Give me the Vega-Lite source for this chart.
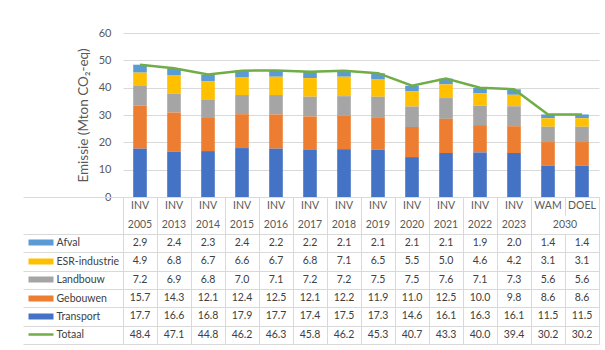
{
  "$schema": "https://vega.github.io/schema/vega-lite/v6.json",
  "background": "white",
  "padding": {"left": 22, "top": 27, "right": 4, "bottom": 2},
  "spacing": 0,
  "bounds": "flush",
  "config": {"font": "Lato", "view": {"stroke": null}, "axis": {"labelOverlap": false}},
  "datasets": {
    "emis": [
      {"cat": "INV 2005", "serie": "Afval", "value": 2.9},
      {"cat": "INV 2013", "serie": "Afval", "value": 2.4},
      {"cat": "INV 2014", "serie": "Afval", "value": 2.3},
      {"cat": "INV 2015", "serie": "Afval", "value": 2.4},
      {"cat": "INV 2016", "serie": "Afval", "value": 2.2},
      {"cat": "INV 2017", "serie": "Afval", "value": 2.2},
      {"cat": "INV 2018", "serie": "Afval", "value": 2.1},
      {"cat": "INV 2019", "serie": "Afval", "value": 2.1},
      {"cat": "INV 2020", "serie": "Afval", "value": 2.1},
      {"cat": "INV 2021", "serie": "Afval", "value": 2.1},
      {"cat": "INV 2022", "serie": "Afval", "value": 1.9},
      {"cat": "INV 2023", "serie": "Afval", "value": 2.0},
      {"cat": "WAM 2030", "serie": "Afval", "value": 1.4},
      {"cat": "DOEL 2030", "serie": "Afval", "value": 1.4},
      {"cat": "INV 2005", "serie": "ESR-industrie", "value": 4.9},
      {"cat": "INV 2013", "serie": "ESR-industrie", "value": 6.8},
      {"cat": "INV 2014", "serie": "ESR-industrie", "value": 6.7},
      {"cat": "INV 2015", "serie": "ESR-industrie", "value": 6.6},
      {"cat": "INV 2016", "serie": "ESR-industrie", "value": 6.7},
      {"cat": "INV 2017", "serie": "ESR-industrie", "value": 6.8},
      {"cat": "INV 2018", "serie": "ESR-industrie", "value": 7.1},
      {"cat": "INV 2019", "serie": "ESR-industrie", "value": 6.5},
      {"cat": "INV 2020", "serie": "ESR-industrie", "value": 5.5},
      {"cat": "INV 2021", "serie": "ESR-industrie", "value": 5.0},
      {"cat": "INV 2022", "serie": "ESR-industrie", "value": 4.6},
      {"cat": "INV 2023", "serie": "ESR-industrie", "value": 4.2},
      {"cat": "WAM 2030", "serie": "ESR-industrie", "value": 3.1},
      {"cat": "DOEL 2030", "serie": "ESR-industrie", "value": 3.1},
      {"cat": "INV 2005", "serie": "Landbouw", "value": 7.2},
      {"cat": "INV 2013", "serie": "Landbouw", "value": 6.9},
      {"cat": "INV 2014", "serie": "Landbouw", "value": 6.8},
      {"cat": "INV 2015", "serie": "Landbouw", "value": 7.0},
      {"cat": "INV 2016", "serie": "Landbouw", "value": 7.1},
      {"cat": "INV 2017", "serie": "Landbouw", "value": 7.2},
      {"cat": "INV 2018", "serie": "Landbouw", "value": 7.2},
      {"cat": "INV 2019", "serie": "Landbouw", "value": 7.5},
      {"cat": "INV 2020", "serie": "Landbouw", "value": 7.5},
      {"cat": "INV 2021", "serie": "Landbouw", "value": 7.6},
      {"cat": "INV 2022", "serie": "Landbouw", "value": 7.1},
      {"cat": "INV 2023", "serie": "Landbouw", "value": 7.3},
      {"cat": "WAM 2030", "serie": "Landbouw", "value": 5.6},
      {"cat": "DOEL 2030", "serie": "Landbouw", "value": 5.6},
      {"cat": "INV 2005", "serie": "Gebouwen", "value": 15.7},
      {"cat": "INV 2013", "serie": "Gebouwen", "value": 14.3},
      {"cat": "INV 2014", "serie": "Gebouwen", "value": 12.1},
      {"cat": "INV 2015", "serie": "Gebouwen", "value": 12.4},
      {"cat": "INV 2016", "serie": "Gebouwen", "value": 12.5},
      {"cat": "INV 2017", "serie": "Gebouwen", "value": 12.1},
      {"cat": "INV 2018", "serie": "Gebouwen", "value": 12.2},
      {"cat": "INV 2019", "serie": "Gebouwen", "value": 11.9},
      {"cat": "INV 2020", "serie": "Gebouwen", "value": 11.0},
      {"cat": "INV 2021", "serie": "Gebouwen", "value": 12.5},
      {"cat": "INV 2022", "serie": "Gebouwen", "value": 10.0},
      {"cat": "INV 2023", "serie": "Gebouwen", "value": 9.8},
      {"cat": "WAM 2030", "serie": "Gebouwen", "value": 8.6},
      {"cat": "DOEL 2030", "serie": "Gebouwen", "value": 8.6},
      {"cat": "INV 2005", "serie": "Transport", "value": 17.7},
      {"cat": "INV 2013", "serie": "Transport", "value": 16.6},
      {"cat": "INV 2014", "serie": "Transport", "value": 16.8},
      {"cat": "INV 2015", "serie": "Transport", "value": 17.9},
      {"cat": "INV 2016", "serie": "Transport", "value": 17.7},
      {"cat": "INV 2017", "serie": "Transport", "value": 17.4},
      {"cat": "INV 2018", "serie": "Transport", "value": 17.5},
      {"cat": "INV 2019", "serie": "Transport", "value": 17.3},
      {"cat": "INV 2020", "serie": "Transport", "value": 14.6},
      {"cat": "INV 2021", "serie": "Transport", "value": 16.1},
      {"cat": "INV 2022", "serie": "Transport", "value": 16.3},
      {"cat": "INV 2023", "serie": "Transport", "value": 16.1},
      {"cat": "WAM 2030", "serie": "Transport", "value": 11.5},
      {"cat": "DOEL 2030", "serie": "Transport", "value": 11.5},
      {"cat": "INV 2005", "serie": "Totaal", "value": 48.4},
      {"cat": "INV 2013", "serie": "Totaal", "value": 47.1},
      {"cat": "INV 2014", "serie": "Totaal", "value": 44.8},
      {"cat": "INV 2015", "serie": "Totaal", "value": 46.2},
      {"cat": "INV 2016", "serie": "Totaal", "value": 46.3},
      {"cat": "INV 2017", "serie": "Totaal", "value": 45.8},
      {"cat": "INV 2018", "serie": "Totaal", "value": 46.2},
      {"cat": "INV 2019", "serie": "Totaal", "value": 45.3},
      {"cat": "INV 2020", "serie": "Totaal", "value": 40.7},
      {"cat": "INV 2021", "serie": "Totaal", "value": 43.3},
      {"cat": "INV 2022", "serie": "Totaal", "value": 40.0},
      {"cat": "INV 2023", "serie": "Totaal", "value": 39.4},
      {"cat": "WAM 2030", "serie": "Totaal", "value": 30.2},
      {"cat": "DOEL 2030", "serie": "Totaal", "value": 30.2}
    ],
    "hdr": [
      {"cat": "INV 2005", "serie": "h1", "label": "INV"},
      {"cat": "INV 2013", "serie": "h1", "label": "INV"},
      {"cat": "INV 2014", "serie": "h1", "label": "INV"},
      {"cat": "INV 2015", "serie": "h1", "label": "INV"},
      {"cat": "INV 2016", "serie": "h1", "label": "INV"},
      {"cat": "INV 2017", "serie": "h1", "label": "INV"},
      {"cat": "INV 2018", "serie": "h1", "label": "INV"},
      {"cat": "INV 2019", "serie": "h1", "label": "INV"},
      {"cat": "INV 2020", "serie": "h1", "label": "INV"},
      {"cat": "INV 2021", "serie": "h1", "label": "INV"},
      {"cat": "INV 2022", "serie": "h1", "label": "INV"},
      {"cat": "INV 2023", "serie": "h1", "label": "INV"},
      {"cat": "WAM 2030", "serie": "h1", "label": "WAM"},
      {"cat": "DOEL 2030", "serie": "h1", "label": "DOEL"},
      {"cat": "INV 2005", "serie": "h2", "label": "2005"},
      {"cat": "INV 2013", "serie": "h2", "label": "2013"},
      {"cat": "INV 2014", "serie": "h2", "label": "2014"},
      {"cat": "INV 2015", "serie": "h2", "label": "2015"},
      {"cat": "INV 2016", "serie": "h2", "label": "2016"},
      {"cat": "INV 2017", "serie": "h2", "label": "2017"},
      {"cat": "INV 2018", "serie": "h2", "label": "2018"},
      {"cat": "INV 2019", "serie": "h2", "label": "2019"},
      {"cat": "INV 2020", "serie": "h2", "label": "2020"},
      {"cat": "INV 2021", "serie": "h2", "label": "2021"},
      {"cat": "INV 2022", "serie": "h2", "label": "2022"},
      {"cat": "INV 2023", "serie": "h2", "label": "2023"},
      {"cat": "WAM 2030", "serie": "h2", "label": "2030", "merged": true}
    ]
  },
  "vconcat": [
    {
      "width": 476,
      "height": 164,
      "encoding": {
        "x": {
          "field": "cat", "type": "nominal",
          "scale": {"domain": ["INV 2005","INV 2013","INV 2014","INV 2015","INV 2016","INV 2017","INV 2018","INV 2019","INV 2020","INV 2021","INV 2022","INV 2023","WAM 2030","DOEL 2030"], "paddingInner": 0.6, "paddingOuter": 0.3},
          "axis": {"title": null, "labels": false, "ticks": false, "grid": false, "domain": true, "domainColor": "#D9D9D9"}
        },
        "y": {
          "field": "value", "type": "quantitative", "stack": "zero",
          "scale": {"domain": [0, 60], "nice": false, "zero": true},
          "axis": {"title": "Emissie (Mton CO₂-eq)", "values": [0,10,20,30,40,50,60], "labelOverlap": false, "labelSeparation": 0, "grid": true, "gridColor": "#D9D9D9", "domain": false, "ticks": false, "labelPadding": 12, "labelColor": "#595959", "labelFontSize": 11, "titleColor": "#595959", "titleFontSize": 13.5, "titleFontWeight": "normal", "titlePadding": 8}
        }
      },
      "layer": [
        {
          "data": {"name": "emis"},
          "transform": [
            {"filter": "datum.serie !== 'Totaal'"},
            {"calculate": "indexof(['Transport','Gebouwen','Landbouw','ESR-industrie','Afval'], datum.serie)", "as": "stackIdx"}
          ],
          "mark": {"type": "bar"},
          "encoding": {
            "color": {
              "field": "serie", "type": "nominal",
              "scale": {"domain": ["Transport","Gebouwen","Landbouw","ESR-industrie","Afval"], "range": ["#4472C4","#ED7D31","#A5A5A5","#FFC000","#5B9BD5"]},
              "legend": null
            },
            "order": {"field": "stackIdx", "type": "quantitative", "sort": "ascending"}
          }
        },
        {
          "data": {"name": "emis"},
          "transform": [{"filter": "datum.serie === 'Totaal'"}],
          "mark": {"type": "line", "color": "#70AD47", "strokeWidth": 2.5}
        }
      ]
    },
    {
      "width": 476,
      "height": 147,
      "resolve": {"scale": {"y": "independent"}},
      "layer": [
        {
          "encoding": {
            "x": {
              "field": "cat", "type": "nominal",
              "scale": {"type": "band", "domain": ["INV 2005","INV 2013","INV 2014","INV 2015","INV 2016","INV 2017","INV 2018","INV 2019","INV 2020","INV 2021","INV 2022","INV 2023","WAM 2030","DOEL 2030"], "padding": 0},
              "axis": {"title": null, "labels": false, "ticks": false, "domain": false, "grid": true, "tickBand": "extent", "gridColor": "#D9D9D9",
                       "gridDash": {"condition": {"test": "datum.value === 'WAM 2030'", "value": [110.3, 18.4, 60]}, "value": []}}
            },
            "y": {
              "field": "serie", "type": "nominal",
              "scale": {"type": "band", "domain": ["h1","h2","Afval","ESR-industrie","Landbouw","Gebouwen","Transport","Totaal"], "padding": 0},
              "axis": {
                "title": null, "orient": "left", "domain": false, "tickBand": "extent", "ticks": true, "tickSize": 100,
                "tickColor": {"condition": {"test": "datum.value === 'h1'", "value": "transparent"}, "value": "#D9D9D9"},
                "grid": true,
                "gridColor": {"condition": {"test": "datum.value === 'h1'", "value": "transparent"}, "value": "#D9D9D9"},
                "labelExpr": "datum.value === 'h1' || datum.value === 'h2' ? '' : datum.value",
                "labelAlign": "left", "labelPadding": -33, "labelColor": "#404040", "labelFontSize": 10.5
              }
            }
          },
          "layer": [
            {
              "data": {"name": "emis"},
              "mark": {"type": "text", "fontSize": 10.5, "color": "#404040"},
              "encoding": {"text": {"field": "value", "type": "quantitative", "format": ".1f"}}
            },
            {
              "data": {"name": "hdr"},
              "transform": [{"filter": "!datum.merged"}],
              "mark": {"type": "text", "fontSize": 10.5, "color": "#595959"},
              "encoding": {"text": {"field": "label"}}
            },
            {
              "data": {"name": "hdr"},
              "transform": [{"filter": "datum.merged"}],
              "mark": {"type": "text", "fontSize": 10.5, "color": "#595959"},
              "encoding": {
                "x": {"field": "cat", "type": "nominal", "bandPosition": 1},
                "text": {"field": "label"}
              }
            }
          ]
        },
        {
          "data": {"name": "emis"},
          "mark": {"type": "text", "opacity": 0},
          "encoding": {
            "y": {
              "field": "serie", "type": "nominal",
              "scale": {"type": "band", "domain": ["h1","h2","Afval","ESR-industrie","Landbouw","Gebouwen","Transport","Totaal"], "padding": 0},
              "axis": {
                "title": null, "orient": "left", "offset": 70, "domain": false, "labels": false, "grid": false,
                "ticks": true, "tickSize": 25, "tickCap": "butt",
                "tickWidth": {"condition": {"test": "datum.value === 'Totaal'", "value": 2.5}, "value": 6},
                "tickColor": {"condition": [
                  {"test": "datum.value === 'Afval'", "value": "#5B9BD5"},
                  {"test": "datum.value === 'ESR-industrie'", "value": "#FFC000"},
                  {"test": "datum.value === 'Landbouw'", "value": "#A5A5A5"},
                  {"test": "datum.value === 'Gebouwen'", "value": "#ED7D31"},
                  {"test": "datum.value === 'Transport'", "value": "#4472C4"},
                  {"test": "datum.value === 'Totaal'", "value": "#70AD47"}
                ], "value": "transparent"}
              }
            },
            "text": {"field": "serie"}
          }
        }
      ]
    }
  ]
}
